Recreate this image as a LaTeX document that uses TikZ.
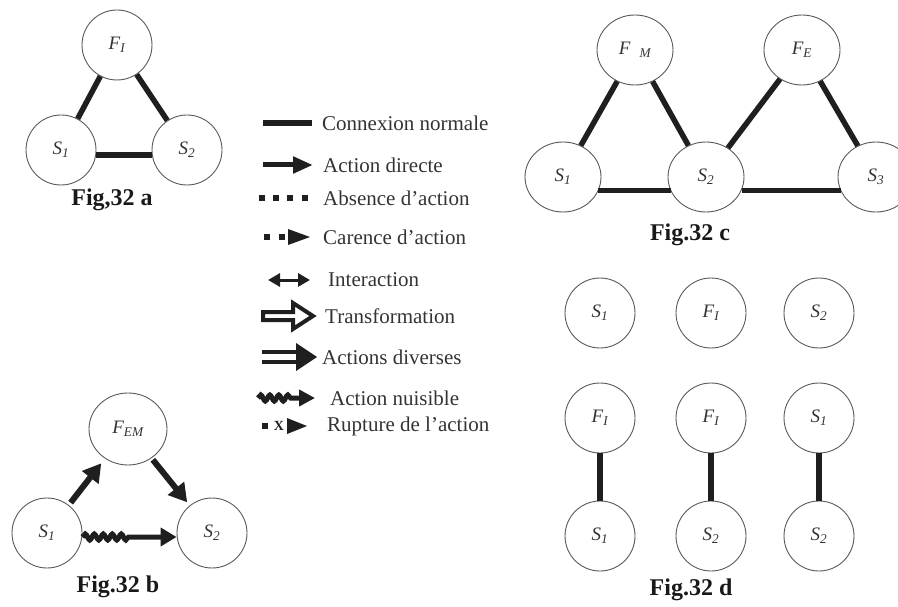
\documentclass[tikz,border=0pt]{standalone}
\usepackage{fontspec}
\setmainfont{Liberation Serif}
\usetikzlibrary{arrows.meta,shapes.geometric,decorations.pathmorphing}

\begin{document}
\begin{tikzpicture}[x=1pt,y=-1pt,
  ring/.style={ellipse, draw=black!65, line width=0.9pt, minimum width=70pt,
    minimum height=70pt, inner sep=0pt, font=\fontsize{19}{19}\selectfont\itshape, text=black!80},
  wide/.style={minimum width=76pt, minimum height=70pt},
  link/.style={line width=5.5pt, draw=black!88},
  act/.style={line width=6pt, draw=black!88, -{Triangle[length=18pt,width=20pt]}},
  harm/.style={line width=5pt, draw=black!88, decorate,
    decoration={snake, amplitude=3pt, segment length=9pt, post length=46pt},
    -{Triangle[length=16pt,width=18pt]}},
  caption/.style={font=\fontsize{24}{24}\selectfont\bfseries, text=black!90},
  legtext/.style={anchor=west, font=\fontsize{21}{21}\selectfont, text=black!80, inner sep=0pt},
  dotsq/.style={fill=black!88, draw=none},
]
\useasboundingbox (0,0) rectangle (898,607);

% ---------- Fig. 32 a ----------
\node[ring] (a-F)  at (117,45)  {F\textsubscript{I}};
\node[ring] (a-S1) at (61,150)  {S\textsubscript{1}};
\node[ring] (a-S2) at (187,150) {S\textsubscript{2}};
\draw[link] (a-F) -- (a-S1);
\draw[link] (a-F) -- (a-S2);
\draw[link] (a-S1.-8) -- (a-S2.188);
\node[caption] (a-cap) at (112,200) {Fig,32 a};

% ---------- Fig. 32 b ----------
\node[ring, minimum width=78pt, minimum height=72pt] (b-F) at (128,429) {F\textsubscript{EM}};
\node[ring] (b-S1) at (47,533)  {S\textsubscript{1}};
\node[ring] (b-S2) at (212,533) {S\textsubscript{2}};
\draw[act, shorten <=3pt, shorten >=6pt] (b-S1) -- (b-F);
\draw[act, shorten <=2pt, shorten >=4pt] (b-F) -- (b-S2);
\draw[harm] ([yshift=-4pt]b-S1.east) -- ([yshift=-4pt]b-S2.west);
\node[caption] (b-cap) at (118,587) {Fig.32 b};

% ---------- Fig. 32 c ----------
\node[ring, wide] (c-FM) at (635,50)  {F\textsubscript{\hspace{0.7em}M}};
\node[ring, wide] (c-FE) at (802,50)  {F\textsubscript{E}};
\node[ring, wide] (c-S1) at (563,177) {S\textsubscript{1}};
\node[ring, wide] (c-S2) at (706,177) {S\textsubscript{2}};
\node[ring, wide] (c-S3) at (876,177) {S\textsubscript{3}};
\draw[link] (c-FM) -- (c-S1);
\draw[link] (c-FM) -- (c-S2);
\draw[link] (c-FE) -- (c-S2);
\draw[link] (c-FE) -- (c-S3);
\draw[link] (c-S1.-21) -- (c-S2.201);
\draw[link] (c-S2.-21) -- (c-S3.201);
\node[caption] (c-cap) at (690,235) {Fig.32 c};

% ---------- Fig. 32 d ----------
\node[ring] (d-S1) at (600,313) {S\textsubscript{1}};
\node[ring] (d-F)  at (711,313) {F\textsubscript{I}};
\node[ring] (d-S2) at (819,313) {S\textsubscript{2}};
\node[ring] (d-Fa) at (600,418) {F\textsubscript{I}};
\node[ring] (d-Sa) at (600,536) {S\textsubscript{1}};
\node[ring] (d-Fb) at (711,418) {F\textsubscript{I}};
\node[ring] (d-Sb) at (711,536) {S\textsubscript{2}};
\node[ring] (d-Sc) at (819,418) {S\textsubscript{1}};
\node[ring] (d-Sd) at (819,536) {S\textsubscript{2}};
\draw[link] (d-Fa) -- (d-Sa);
\draw[link] (d-Fb) -- (d-Sb);
\draw[link] (d-Sc) -- (d-Sd);
\node[caption] (d-cap) at (691,590) {Fig.32 d};

% ---------- Legend ----------
\node[legtext] (l1) at (322,123) {Connexion normale};
\node[legtext] (l2) at (323,165) {Action directe};
\node[legtext] (l3) at (323,198) {Absence d'action};
\node[legtext] (l4) at (323,237) {Carence d'action};
\node[legtext] (l5) at (328,280) {Interaction};
\node[legtext] (l6) at (325,316) {Transformation};
\node[legtext] (l7) at (322,357) {Actions diverses};
\node[legtext] (l8) at (330,398) {Action nuisible};
\node[legtext] (l9) at (327,426) {Rupture de l'action};

% normal connection
\draw[link] ([xshift=-59pt]l1.west) -- ([xshift=-10pt]l1.west);
% direct action
\draw[line width=5pt, draw=black!88, -{Triangle[length=20pt,width=16pt]}]
  ([xshift=-60pt]l2.west) -- ([xshift=-10pt]l2.west);
% absence of action
\begin{scope}[shift={(l3.west)}]
  \foreach \k in {-61,-47,-33,-18}
    \fill[dotsq] (\k-3,-3) rectangle (\k+3,3);
\end{scope}
% lack of action
\begin{scope}[shift={(l4.west)}]
  \foreach \k in {-56,-41}
    \fill[dotsq] (\k-3,-3) rectangle (\k+3,3);
  \fill[black!88] (-35,-8) -- (-13,0) -- (-35,8) -- cycle;
\end{scope}
% interaction
\draw[line width=3pt, draw=black!88,
  {Triangle[length=12pt,width=13pt]}-{Triangle[length=12pt,width=13pt]}]
  ([xshift=-60pt]l5.west) -- ([xshift=-18pt]l5.west);
% transformation
\begin{scope}[shift={(l6.west)}]
  \draw[line width=4pt, draw=black!88, fill=white, line join=miter]
    (-62,-4) -- (-32,-4) -- (-32,-13) -- (-12,0) -- (-32,13) -- (-32,4) -- (-62,4) -- cycle;
\end{scope}
% miscellaneous actions
\begin{scope}[shift={(l7.west)}]
  \draw[line width=4pt, draw=black!88] (-60,-5) -- (-24,-5);
  \draw[line width=4pt, draw=black!88] (-60,5) -- (-24,5);
  \fill[black!88] (-26,-14) -- (-5,0) -- (-26,14) -- cycle;
\end{scope}
% harmful action
\draw[line width=5pt, draw=black!88, decorate,
  decoration={snake, amplitude=3pt, segment length=9pt, post length=24pt},
  -{Triangle[length=16pt,width=16pt]}]
  ([xshift=-72pt]l8.west) -- ([xshift=-15pt]l8.west);
% broken action
\begin{scope}[shift={(l9.west)}]
  \fill[dotsq] (-65,-3) rectangle (-59,3);
  \node[font=\fontsize{14}{14}\selectfont\bfseries, text=black!88, inner sep=0pt] (l9x) at (-48,0) {X};
  \fill[black!88] (-40,-8) -- (-20,0) -- (-40,8) -- cycle;
\end{scope}
\end{tikzpicture}
\end{document}
